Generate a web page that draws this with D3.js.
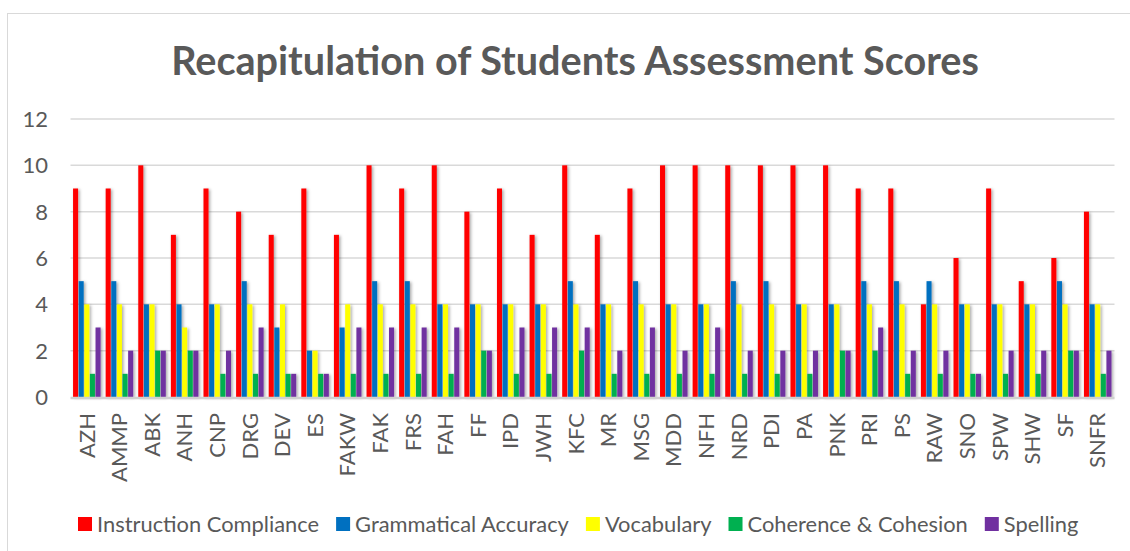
<!DOCTYPE html>
<html><head><meta charset="utf-8">
<script src="https://cdn.jsdelivr.net/npm/d3@7"></script>
<style>html,body{margin:0;padding:0;background:#fff;}svg{display:block;}</style>
</head><body>
<svg id="chart" width="1130" height="551"></svg>
<script>
const categories = ["AZH","AMMP","ABK","ANH","CNP","DRG","DEV","ES","FAKW","FAK","FRS","FAH","FF","IPD","JWH","KFC","MR","MSG","MDD","NFH","NRD","PDI","PA","PNK","PRI","PS","RAW","SNO","SPW","SHW","SF","SNFR"];
const seriesNames = ["Instruction Compliance","Grammatical Accuracy","Vocabulary","Coherence & Cohesion","Spelling"];
const instructionCompliance = [9,9,10,7,9,8,7,9,7,10,9,10,8,9,7,10,7,9,10,10,10,10,10,10,9,9,4,6,9,5,6,8];
const grammaticalAccuracy   = [5,5,4,4,4,5,3,2,3,5,5,4,4,4,4,5,4,5,4,4,5,5,4,4,5,5,5,4,4,4,5,4];
const vocabulary            = [4,4,4,3,4,4,4,2,4,4,4,4,4,4,4,4,4,4,4,4,4,4,4,4,4,4,4,4,4,4,4,4];
const coherenceCohesion     = [1,1,2,2,1,1,1,1,1,1,1,1,2,1,1,2,1,1,1,1,1,1,1,2,2,1,1,1,1,1,2,1];
const spelling              = [3,2,2,2,2,3,1,1,3,3,3,3,2,3,3,3,2,3,2,3,2,2,2,2,3,2,2,1,2,2,2,2];
const yTicks = [0,2,4,6,8,10,12];
const colors = ["#FF0000","#0070C0","#FFFF00","#00B050","#7030A0"];
const title = "Recapitulation of Students Assessment Scores";

const allSeries = [instructionCompliance, grammaticalAccuracy, vocabulary, coherenceCohesion, spelling];
const FONT = "Lato, 'Open Sans', sans-serif";
const TXT = "#595959";

const svg = d3.select("#chart");
const defs = svg.append("defs");
const f = defs.append("filter").attr("id","shadow").attr("x","-50%").attr("y","-10%").attr("width","250%").attr("height","130%");
f.append("feDropShadow").attr("dx",1.5).attr("dy",1).attr("stdDeviation",1.8).attr("flood-color","#000").attr("flood-opacity",0.35);

// chart border
svg.append("rect").attr("x",7.5).attr("y",13.5).attr("width",1130).attr("height",560)
  .attr("fill","#fff").attr("stroke","#d9d9d9").attr("stroke-width",1);

const x0 = d3.scaleBand().domain(categories).range([70.5, 1114]).paddingInner(0).paddingOuter(0);
const x1 = d3.scaleBand().domain(d3.range(5)).range([0, x0.bandwidth()]).paddingInner(0).paddingOuter(0.4);
const y = d3.scaleLinear().domain([0,12]).range([397, 119]);

// gridlines
svg.append("g").selectAll("line").data(yTicks.filter(t=>t>0)).join("line")
  .attr("x1",70.5).attr("x2",1114.5).attr("y1",d=>y(d)).attr("y2",d=>y(d))
  .attr("stroke","#d9d9d9").attr("stroke-width",1.5);

// y axis labels
const yAxis = d3.axisLeft(y).tickValues(yTicks).tickSize(0).tickPadding(0).tickFormat(d3.format("d"));
const yg = svg.append("g").attr("transform","translate(48,0)").call(yAxis);
yg.select(".domain").remove();
yg.selectAll("text").attr("font-family",FONT).attr("font-size",22).attr("fill",TXT).attr("dy","0.34em");

// bars
const groups = svg.append("g").selectAll("g").data(categories).join("g")
  .attr("transform",d=>`translate(${x0(d)},0)`);
groups.selectAll("rect").data((d,i)=>allSeries.map((s,k)=>({k, v:s[i]}))).join("rect")
  .attr("x",d=>x1(d.k)+0.3).attr("width",x1.bandwidth()-0.6)
  .attr("y",d=>y(d.v)).attr("height",d=>y(0)-y(d.v))
  .attr("fill",d=>colors[d.k]).attr("filter","url(#shadow)");

// baseline
svg.append("line").attr("x1",70.5).attr("x2",1114.5).attr("y1",y(0)+1).attr("y2",y(0)+1)
  .attr("stroke","#d0d0d0").attr("stroke-width",2.5);

// x axis labels
const xAxis = d3.axisBottom(x0).tickSize(0).tickPadding(0);
const xg = svg.append("g").attr("transform",`translate(0,${y(0)})`).call(xAxis);
xg.select(".domain").remove();
xg.selectAll("text").attr("font-family",FONT).attr("font-size",22).attr("fill",TXT)
  .attr("text-anchor","end").attr("transform","rotate(-90)")
  .attr("x",-16).attr("y",0).attr("dy","0.35em");

// title
const t = svg.append("text").attr("x",575).attr("y",75).attr("text-anchor","middle")
  .attr("font-family",FONT).attr("font-weight","bold").attr("font-size",36).attr("fill",TXT).text(title);
const tw = t.node().getComputedTextLength();
t.attr("font-size", 36*808/tw);

// legend (font sized so the row spans the same width as the reference)
const lg = svg.append("g");
const legendStart = 78, legendEnd = 1079, sq = 14, sqGap = 5, itemGap = 17;
const probe = lg.append("g");
const baseFont = 20;
const widths = seriesNames.map(n => probe.append("text").attr("font-family",FONT).attr("font-size",baseFont).text(n).node().getComputedTextLength());
probe.remove();
const fixed = seriesNames.length*(sq+sqGap) + (seriesNames.length-1)*itemGap;
const legendFont = baseFont * (legendEnd - legendStart - fixed) / d3.sum(widths);
let lx = legendStart;
seriesNames.forEach((name,k)=>{
  lg.append("rect").attr("x",lx).attr("y",517).attr("width",sq).attr("height",sq).attr("fill",colors[k]);
  const tx = lg.append("text").attr("x",lx+sq+sqGap).attr("y",524).attr("dy","0.35em")
    .attr("font-family",FONT).attr("font-size",legendFont).attr("fill",TXT).text(name);
  lx += sq + sqGap + tx.node().getComputedTextLength() + itemGap;
});
</script>
</body></html>
